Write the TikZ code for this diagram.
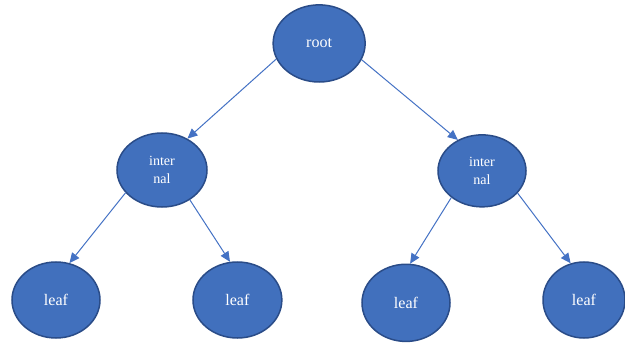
\documentclass[tikz,border=0pt]{standalone}
\usepackage{fontspec}
\setmainfont{Liberation Serif}
\usepackage{xcolor}
\usetikzlibrary{shapes.geometric, arrows.meta}

\definecolor{nodeblue}{HTML}{4170BD}
\definecolor{rimblue}{HTML}{2A4C88}
\definecolor{edgeblue}{HTML}{4472C4}

\begin{document}
\begin{tikzpicture}[
        treenode/.style={ellipse,draw=rimblue,line width=1.5pt,fill=nodeblue,
            text=white,inner sep=0pt,align=center},
        edge/.style={draw=edgeblue,line width=1pt,
            -{Triangle[length=10pt,width=9pt]}}
    ]
        \useasboundingbox (0,0) rectangle (21.875,11.97);
        \node[treenode,minimum width=3.22cm,minimum height=2.70cm,font=\fontsize{16}{18}\selectfont] (root) at (11.17,10.45) {root};
        \node[treenode,minimum width=3.15cm,minimum height=2.59cm,font=\fontsize{14}{18}\selectfont] (intl) at (5.67,6.02) {inter\\nal};
        \node[treenode,minimum width=3.08cm,minimum height=2.52cm,font=\fontsize{14}{18}\selectfont] (intr) at (16.87,5.99) {inter\\nal};
        \node[treenode,minimum width=3.08cm,minimum height=2.66cm,font=\fontsize{16}{18}\selectfont] (leafa) at (1.96,1.47) {leaf};
        \node[treenode,minimum width=3.11cm,minimum height=2.66cm,font=\fontsize{16}{18}\selectfont] (leafb) at (8.31,1.47) {leaf};
        \node[treenode,minimum width=3.08cm,minimum height=2.70cm,font=\fontsize{16}{18}\selectfont] (leafc) at (14.21,1.37) {leaf};
        \node[treenode,minimum width=2.87cm,minimum height=2.66cm,font=\fontsize{16}{18}\selectfont] (leafd) at (20.44,1.47) {leaf};
        \draw[edge] (root.200) -- (intl.51);
        \draw[edge] (root.339) -- (intr.128);
        \draw[edge] (intl.212) -- (leafa.70);
        \draw[edge] (intl.313) -- (leafb.101);
        \draw[edge] (intr.221) -- (leafc.84);
        \draw[edge] (intr.328) -- (leafd.110);
    \end{tikzpicture}
\end{document}
